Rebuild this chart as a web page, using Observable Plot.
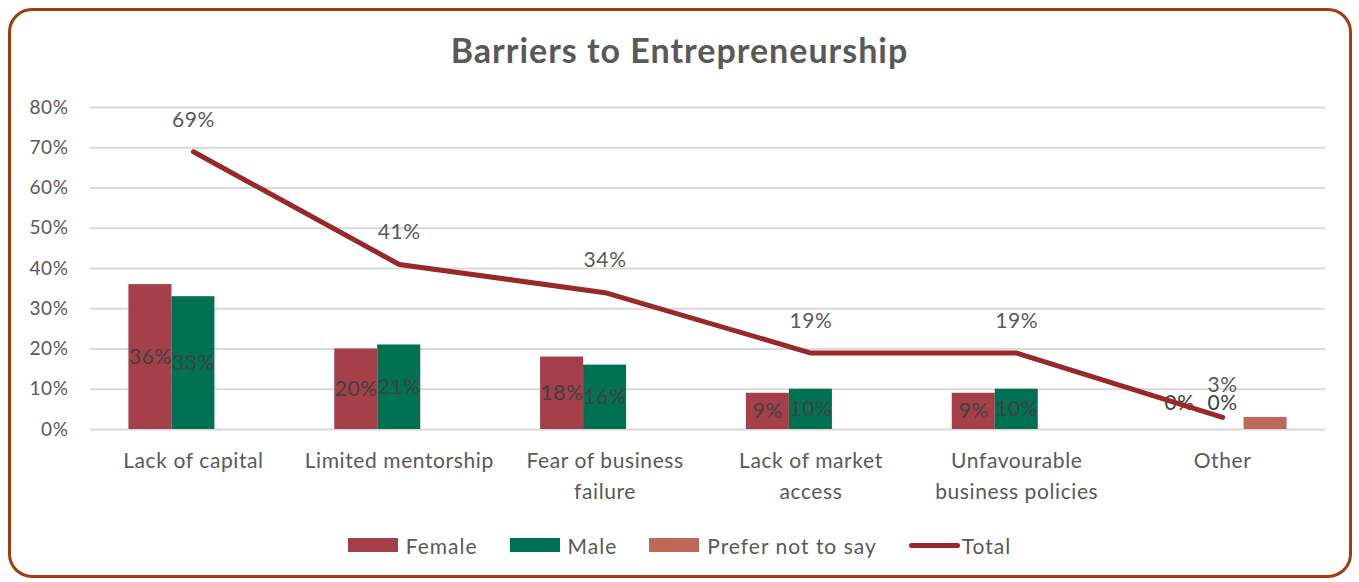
<!DOCTYPE html>
<html>
<head>
<meta charset="utf-8">
<script src="https://cdn.jsdelivr.net/npm/d3@7"></script>
<script src="https://cdn.jsdelivr.net/npm/@observablehq/plot@0.6"></script>
<style>
  html, body { margin: 0; padding: 0; background: #fff; }
  #wrap { position: relative; width: 1359px; height: 582px; overflow: hidden; font-family: Lato, "Open Sans", sans-serif; }
  #frame { position: absolute; left: 8px; top: 8px; width: 1338px; height: 564px; border: 3px solid #a33a10; border-radius: 24px; }
  #title { position: absolute; left: 0; top: 0; width: 1359px; height: 90px; text-align: center; line-height: 100px; font-size: 34px; letter-spacing: 1px; font-weight: bold; color: #595959; }
  #chart { position: absolute; left: 0; top: 90px; }
  #chart svg text { letter-spacing: 0.6px; }
  #legend { position: absolute; left: 0; top: 528px; width: 1359px; height: 34px; display: flex; justify-content: center; align-items: center; font-size: 21px; letter-spacing: 1px; color: #595959; }
  .item { display: flex; align-items: center; margin: 0 16px; }
  .sw { width: 50px; height: 14px; margin-right: 8px; }
  .ln { width: 51px; height: 5px; border-radius: 3px; margin-right: 2px; }
</style>
</head>
<body>
<div id="wrap">
  <div id="frame"></div>
  <div id="title">Barriers to Entrepreneurship</div>
  <div id="chart"></div>
  <div id="legend"></div>
</div>
<script>
const categories = ["Lack of capital", "Limited mentorship", "Fear of business\nfailure", "Lack of market\naccess", "Unfavourable\nbusiness policies", "Other"];
const female = [0.36, 0.20, 0.18, 0.09, 0.09, 0.00];
const male = [0.33, 0.21, 0.16, 0.10, 0.10, 0.00];
const preferNot = [0.00, 0.00, 0.00, 0.00, 0.00, 0.03];
const total = [0.69, 0.41, 0.34, 0.19, 0.19, 0.03];
const yTicks = [0, 0.1, 0.2, 0.3, 0.4, 0.5, 0.6, 0.7, 0.8];

const colors = { Female: "#a5404a", Male: "#007152", "Prefer not to say": "#bf685a", Total: "#9b2828" };

const rows = categories.map((c, i) => ({ cat: c, female: female[i], male: male[i], prefer: preferNot[i], total: total[i] }));

const W = 1359, H = 430, mL = 90, mR = 34, mT = 17, mB = 91;
const bw = (W - mL - mR) / categories.length;
const barW = 43;
const inset = (bw - barW) / 2;
const fmt = d3.format(".0%");
const labelFont = { fontSize: 21, fill: "#404040" };

const marks = [
  Plot.gridY(yTicks, { stroke: "#d9d9d9", strokeWidth: 2, strokeOpacity: 1 }),
  Plot.barY(rows, { x: "cat", y: "female", fill: colors.Female, insetLeft: inset, insetRight: inset, dx: -barW }),
  Plot.barY(rows, { x: "cat", y: "male", fill: colors.Male, insetLeft: inset, insetRight: inset }),
  Plot.barY(rows, { x: "cat", y: "prefer", fill: colors["Prefer not to say"], insetLeft: inset, insetRight: inset, dx: barW }),
  Plot.text(rows.filter(d => d.female > 0), { x: "cat", y: d => d.female / 2, text: d => fmt(d.female), dx: -barW, ...labelFont }),
  Plot.text(rows.filter(d => d.male > 0), { x: "cat", y: d => d.male / 2, text: d => fmt(d.male), ...labelFont }),
  Plot.text(rows.filter(d => d.female === 0), { x: "cat", y: "female", text: d => fmt(d.female), dx: -barW, dy: -26, ...labelFont }),
  Plot.text(rows.filter(d => d.male === 0), { x: "cat", y: "male", text: d => fmt(d.male), dy: -26, ...labelFont }),
  Plot.line(rows, { x: "cat", y: "total", stroke: colors.Total, strokeWidth: 5, strokeLinecap: "round", strokeLinejoin: "round" }),
  Plot.text(rows, { x: "cat", y: "total", text: d => fmt(d.total), dy: -32, fontSize: 21, fill: "#595959" })
];

const chart = Plot.plot({
  width: W, height: H,
  marginLeft: mL, marginRight: mR, marginTop: mT, marginBottom: mB,
  style: { fontFamily: "Lato, 'Open Sans', sans-serif", background: "transparent", overflow: "visible" },
  x: { domain: categories, padding: 0, round: false, label: null, tickSize: 0 },
  y: { domain: [0, 0.8], ticks: yTicks, tickFormat: fmt, label: null, tickSize: 0 },
  marks: [
    ...marks,
    Plot.axisY(yTicks, { tickFormat: fmt, tickSize: 0, tickPadding: 22, fontSize: 19, fill: "#595959", label: null }),
    Plot.axisX({ tickSize: 0, tickPadding: 16, fontSize: 21, fill: "#595959", label: null, lineHeight: 1.5, lineAnchor: "top" })
  ]
});
document.getElementById("chart").appendChild(chart);

const legendItems = [
  { name: "Female", type: "bar" },
  { name: "Male", type: "bar" },
  { name: "Prefer not to say", type: "bar" },
  { name: "Total", type: "line" }
];
const legend = document.getElementById("legend");
legendItems.forEach(it => {
  const el = document.createElement("div");
  el.className = "item";
  const sw = document.createElement("div");
  sw.className = it.type === "bar" ? "sw" : "ln";
  sw.style.background = colors[it.name];
  const tx = document.createElement("span");
  tx.textContent = it.name;
  el.appendChild(sw); el.appendChild(tx);
  legend.appendChild(el);
});
</script>
</body>
</html>
